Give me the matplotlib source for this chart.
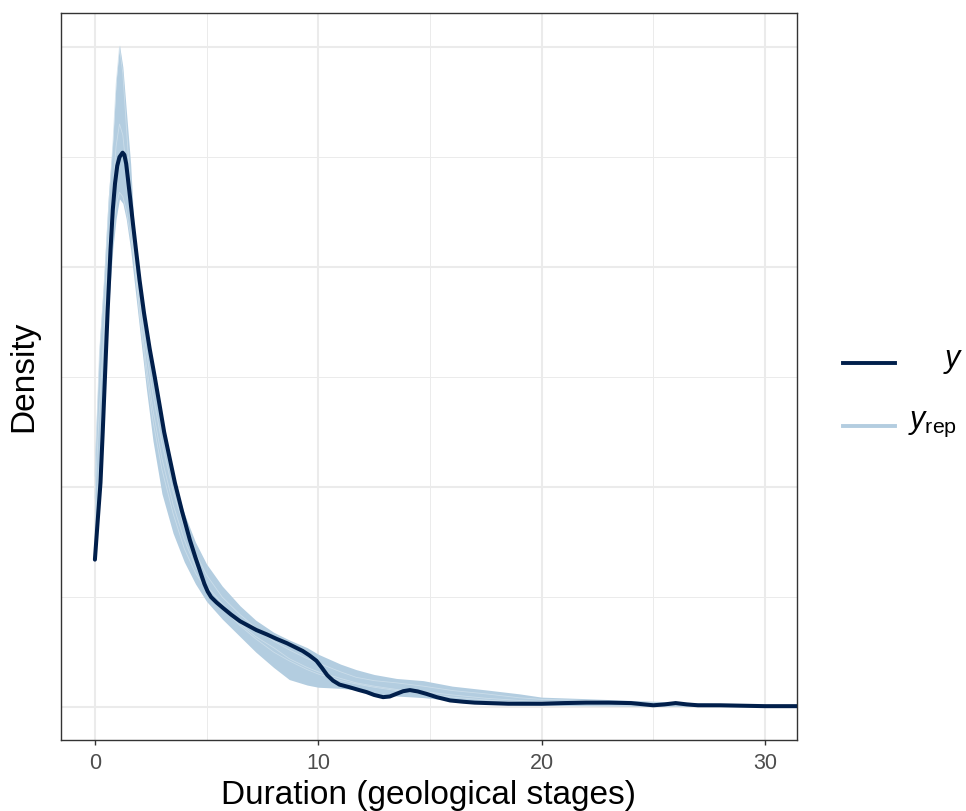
import matplotlib
matplotlib.use('Agg')
import matplotlib.pyplot as plt
from matplotlib.lines import Line2D
from matplotlib.ticker import MultipleLocator, NullFormatter

plt.rcParams['font.family'] = ['Liberation Sans', 'DejaVu Sans']
plt.rcParams['mathtext.fontset'] = 'custom'
plt.rcParams['mathtext.it'] = 'Liberation Sans:italic'
plt.rcParams['mathtext.rm'] = 'Liberation Sans'

# observed density (y)
x_obs = [0, 0.12, 0.25, 0.35, 0.45, 0.57, 0.7, 0.8, 0.9, 1.0, 1.1, 1.24, 1.32, 1.4, 1.48,
         1.57, 1.7, 1.86, 2.0, 2.2, 2.45, 2.68, 2.9, 3.1, 3.35, 3.58, 3.9, 4.25, 4.5, 4.7,
         4.9, 5.05, 5.2, 5.45, 5.74, 6.1, 6.5, 7.23, 7.7, 8.13, 8.6, 9.0, 9.3, 9.6, 9.92,
         10.15, 10.4, 10.66, 10.95, 11.4, 11.8, 12.16, 12.5, 12.9, 13.2, 13.5, 13.8, 14.1,
         14.45, 14.84, 15.3, 15.9, 16.5, 17, 18.5, 20, 21, 22, 23, 24, 24.6, 25, 25.5, 26,
         26.5, 27, 28, 29, 30, 31.43]
y_obs = [0.067, 0.084, 0.102, 0.125, 0.150, 0.180, 0.208, 0.226, 0.238, 0.246, 0.250, 0.252,
         0.251, 0.247, 0.240, 0.232, 0.220, 0.206, 0.194, 0.179, 0.163, 0.150, 0.137, 0.125,
         0.113, 0.102, 0.089, 0.076, 0.068, 0.062, 0.056, 0.0525, 0.050, 0.0475, 0.045,
         0.042, 0.039, 0.035, 0.033, 0.031, 0.029, 0.027, 0.0255, 0.0235, 0.021, 0.018,
         0.0145, 0.012, 0.0102, 0.009, 0.0078, 0.0068, 0.0055, 0.0045, 0.0048, 0.006,
         0.0072, 0.0077, 0.0071, 0.006, 0.0045, 0.003, 0.0024, 0.002, 0.0015, 0.0015,
         0.0018, 0.002, 0.002, 0.0018, 0.0012, 0.0008, 0.0012, 0.0018, 0.0012, 0.0008,
         0.0008, 0.0006, 0.0004, 0.0004]

# replicated densities (y_rep): envelope + a few individual draws
x_rep = [0, 0.2, 0.4, 0.6, 0.8, 0.95, 1.1, 1.25, 1.4, 1.6, 1.8, 2.0, 2.3, 2.6, 3.0, 3.5,
         4.0, 4.5, 5.0, 5.7, 6.5, 7.2, 8.0, 8.7, 9.5, 10.0, 11.0, 11.7, 12.5, 13.5, 14.7,
         16, 17.5, 19, 20, 22, 24, 26, 28, 30, 31.43]
rep_upper = [0.115, 0.165, 0.195, 0.232, 0.258, 0.285, 0.301, 0.291, 0.272, 0.247, 0.209,
             0.19, 0.168, 0.15, 0.127, 0.105, 0.088, 0.075, 0.065, 0.055, 0.046, 0.0395,
             0.034, 0.0305, 0.027, 0.024, 0.0195, 0.017, 0.0148, 0.013, 0.012, 0.0095,
             0.0078, 0.006, 0.0045, 0.0038, 0.003, 0.0023, 0.0016, 0.0011, 0.0009]
rep_lower = [0.07, 0.095, 0.135, 0.18, 0.208, 0.222, 0.231, 0.229, 0.222, 0.208, 0.19,
             0.172, 0.145, 0.121, 0.097, 0.079, 0.066, 0.056, 0.048, 0.040, 0.032, 0.025,
             0.018, 0.0125, 0.010, 0.009, 0.0085, 0.0078, 0.006, 0.005, 0.0043, 0.003,
             0.0018, 0.001, 0.0008, 0.0006, 0.0004, 0.0003, 0.0002, 0.0001, 0.0]
rep_a = [0.105, 0.16, 0.19, 0.225, 0.255, 0.283, 0.300, 0.288, 0.265, 0.235, 0.2, 0.178,
         0.152, 0.13, 0.108, 0.088, 0.072, 0.061, 0.053, 0.045, 0.037, 0.031, 0.025, 0.021,
         0.017, 0.015, 0.012, 0.0105, 0.009, 0.0075, 0.006, 0.0045, 0.0032, 0.0022, 0.0016,
         0.001, 0.0007, 0.0005, 0.0003, 0.0002, 0.0001]
rep_b = [0.08, 0.11, 0.15, 0.19, 0.215, 0.228, 0.234, 0.232, 0.226, 0.214, 0.2, 0.185,
         0.162, 0.142, 0.12, 0.098, 0.082, 0.07, 0.06, 0.05, 0.042, 0.036, 0.03, 0.026,
         0.022, 0.02, 0.016, 0.0135, 0.012, 0.011, 0.0095, 0.0075, 0.006, 0.0042, 0.0035,
         0.003, 0.0022, 0.0016, 0.0011, 0.0007, 0.0005]
rep_c = [0.095, 0.135, 0.17, 0.21, 0.235, 0.255, 0.265, 0.26, 0.245, 0.222, 0.198, 0.18,
         0.156, 0.135, 0.113, 0.092, 0.076, 0.064, 0.055, 0.047, 0.038, 0.032, 0.027, 0.022,
         0.018, 0.016, 0.013, 0.011, 0.0095, 0.008, 0.007, 0.0055, 0.004, 0.003, 0.0025,
         0.0018, 0.0013, 0.001, 0.0007, 0.0004, 0.0003]

dark = '#011f4b'
light = '#b3cde0'

fig = plt.figure(figsize=(9.66, 8.11), dpi=100)
ax = fig.add_axes([0.0631, 0.0875, 0.7619, 0.8965])

ax.fill_between(x_rep, rep_lower, rep_upper, color=light, lw=0, zorder=2)
for r in [rep_a, rep_b, rep_c]:
    ax.plot(x_rep, r, color='#d1e1ec', lw=0.6, alpha=0.8, zorder=3)
ax.plot(x_obs, y_obs, color=dark, lw=2.9, solid_capstyle='round', solid_joinstyle='round', zorder=4)

ax.set_xlim(-1.52, 31.43)
ax.set_ylim(-0.015, 0.3155)
ax.xaxis.set_major_locator(MultipleLocator(10))
ax.xaxis.set_minor_locator(MultipleLocator(5))
ax.yaxis.set_major_locator(MultipleLocator(0.1))
ax.yaxis.set_minor_locator(MultipleLocator(0.05))
ax.yaxis.set_major_formatter(NullFormatter())
ax.grid(which='major', color='#ebebeb', lw=1.5, zorder=0)
ax.grid(which='minor', color='#ebebeb', lw=0.7, zorder=0)
ax.set_axisbelow(True)
ax.tick_params(axis='x', which='major', length=3.6, width=1.0, color='#333333',
               labelsize=15.5, labelcolor='#4d4d4d', pad=6)
ax.tick_params(axis='x', which='minor', length=0)
ax.tick_params(axis='y', which='both', length=0)
for s in ax.spines.values():
    s.set_color('#333333')
    s.set_linewidth(1.0)

ax.set_xlabel('Duration (geological stages)', fontsize=24, labelpad=4)
ax.set_ylabel('Density', fontsize=24, labelpad=12)

# legend
fig.add_artist(Line2D([843 / 966, 895 / 966], [1 - 363 / 811] * 2, color=dark, lw=2.8))
fig.add_artist(Line2D([843 / 966, 895 / 966], [1 - 426 / 811] * 2, color=light, lw=2.8))
fig.text(953 / 966, 1 - 361 / 811, r'$y$', fontsize=22, ha='center', va='center')
fig.text(908 / 966, 1 - 424 / 811, r'$y_{\mathrm{rep}}$', fontsize=22, ha='left', va='center')

fig.savefig('out.png', dpi=100)
